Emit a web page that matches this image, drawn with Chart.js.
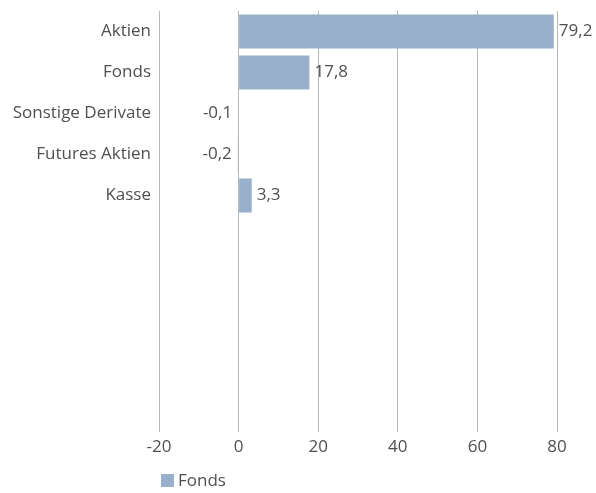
<!DOCTYPE html>
<html>
<head>
<meta charset="utf-8">
<script src="https://cdn.jsdelivr.net/npm/chart.js@4/dist/chart.umd.min.js"></script>
<style>
  html, body { margin: 0; padding: 0; background: #fff; }
  #wrap { width: 596px; height: 493px; }
</style>
</head>
<body>
<div id="wrap"><canvas id="chart"></canvas></div>
<script>
// categories (five empty slots keep the lower part of the plot blank)
const categories = ['Aktien', 'Fonds', 'Sonstige Derivate', 'Futures Aktien', 'Kasse', '', '', '', '', ''];
const fondsValues = [79.2, 17.8, -0.1, -0.2, 3.3, null, null, null, null, null];
const xTicks = [-20, 0, 20, 40, 60, 80];

const barColor = '#98b0cb';
const textColor = '#505050';
const gridColor = '#b8b8b8';
const fontFamily = '"Open Sans", sans-serif';
const fontSize = 17;

const fmt = v => v.toFixed(1).replace('.', ',');

// value labels next to each bar end
const valueLabels = {
  id: 'valueLabels',
  afterDatasetsDraw(chart) {
    const ctx = chart.ctx;
    const meta = chart.getDatasetMeta(0);
    ctx.save();
    ctx.font = fontSize + 'px ' + fontFamily;
    ctx.fillStyle = textColor;
    ctx.textBaseline = 'middle';
    meta.data.forEach((bar, i) => {
      const v = fondsValues[i];
      if (v === null) return;
      if (v >= 0) {
        ctx.textAlign = 'left';
        ctx.fillText(fmt(v), bar.x + 5, bar.y);
      } else {
        ctx.textAlign = 'right';
        ctx.fillText(fmt(v), bar.x - 6, bar.y);
      }
    });
    ctx.restore();
  }
};

// legend drawn under the plot, starting at the plot's left edge
const bottomLegend = {
  id: 'bottomLegend',
  afterDraw(chart) {
    const ctx = chart.ctx;
    const x = chart.chartArea.left + 2;
    const y = 481;
    ctx.save();
    ctx.fillStyle = barColor;
    ctx.fillRect(x, y - 7, 13, 13);
    ctx.font = fontSize + 'px ' + fontFamily;
    ctx.fillStyle = textColor;
    ctx.textAlign = 'left';
    ctx.textBaseline = 'middle';
    ctx.fillText('Fonds', x + 17, y);
    ctx.restore();
  }
};

new Chart(document.getElementById('chart'), {
  type: 'bar',
  data: {
    labels: categories,
    datasets: [{
      label: 'Fonds',
      data: fondsValues,
      backgroundColor: barColor,
      borderWidth: 0,
      categoryPercentage: 1,
      barPercentage: 0.83
    }]
  },
  options: {
    indexAxis: 'y',
    responsive: true,
    maintainAspectRatio: false,
    animation: false,
    layout: { padding: { top: 11, right: 39, bottom: 35, left: 0 } },
    plugins: {
      legend: { display: false },
      tooltip: { enabled: false }
    },
    scales: {
      x: {
        min: -20,
        max: 80,
        afterBuildTicks: axis => { axis.ticks = xTicks.map(v => ({ value: v })); },
        afterFit: axis => { axis.height = 37; },
        grid: { color: gridColor, drawTicks: true, tickLength: 11, lineWidth: 1 },
        border: { display: false },
        ticks: { color: textColor, font: { family: fontFamily, size: fontSize }, padding: 5 }
      },
      y: {
        afterFit: axis => {
          axis.width = 159;
          axis.paddingTop = 0;
          axis.paddingBottom = 0;
        },
        grid: { display: false, drawTicks: false, tickLength: 0 },
        border: { display: false },
        ticks: { color: textColor, font: { family: fontFamily, size: fontSize }, padding: 8, autoSkip: false }
      }
    }
  },
  plugins: [valueLabels, bottomLegend]
});
</script>
</body>
</html>
